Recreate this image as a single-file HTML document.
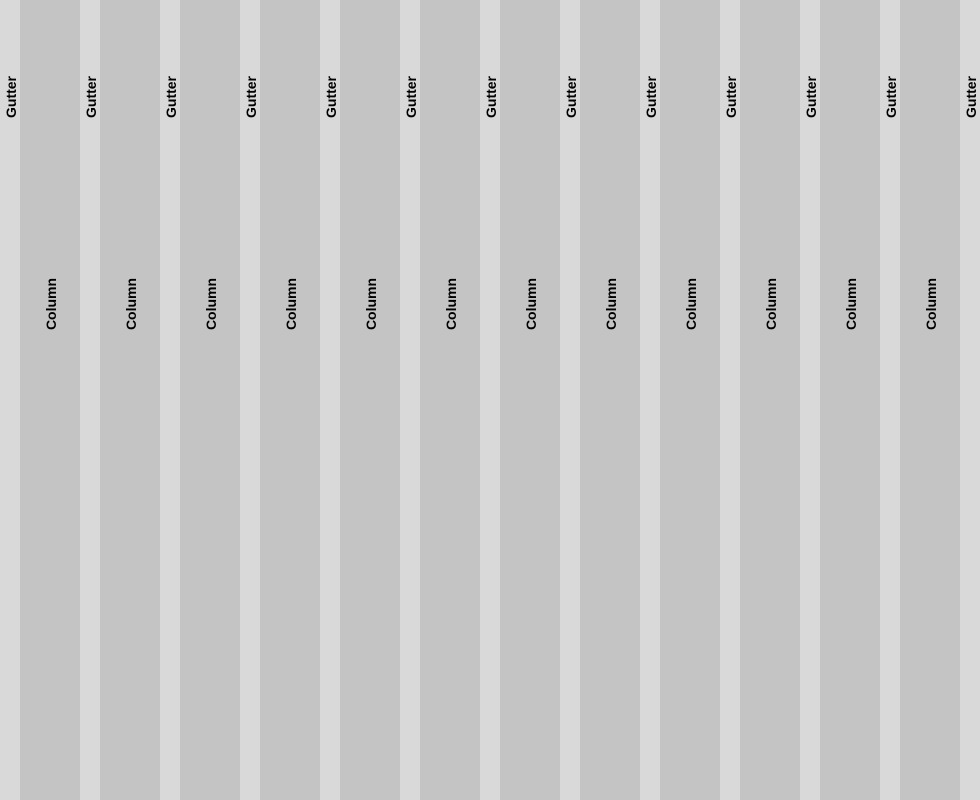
<!DOCTYPE html>
<html><head><meta charset="utf-8"><style>
html,body{margin:0;padding:0;}
body{width:980px;height:800px;position:relative;overflow:hidden;background:#d9d9d9;font-family:"Liberation Sans",sans-serif;}
.g,.c{position:absolute;top:0;height:800px;}
.g{width:20px;background:#d9d9d9;}
.c{width:60px;background:#c4c4c4;}
.lbl{position:absolute;left:50%;font-weight:bold;font-size:14px;color:#000;white-space:nowrap;transform:translate(-50%,-50%) translateX(1px) rotate(-90deg);line-height:14px;}
.g .lbl{top:97px;}
.c .lbl{top:304px;}
</style></head><body>
<div id="root"></div>
<script>
const columns = [1,2,3,4,5,6,7,8,9,10,11,12];
const gutters = [1,2,3,4,5,6,7,8,9,10,11,12,13];
const root = document.getElementById('root');


gutters.forEach((g,i)=>{
  const d=document.createElement('div');d.className='g';d.style.left=(i*80)+'px';
  
  
  const s=document.createElement('span');s.className='lbl';s.textContent='Gutter';
  
  
  d.appendChild(s);root.appendChild(d);
});
columns.forEach((c,i)=>{
  const d=document.createElement('div');d.className='c';d.style.left=(20+i*80)+'px';
  
  
  const s=document.createElement('span');s.className='lbl';s.textContent='Column';
  
  
  d.appendChild(s);root.appendChild(d);
});
</script>
</body></html>
